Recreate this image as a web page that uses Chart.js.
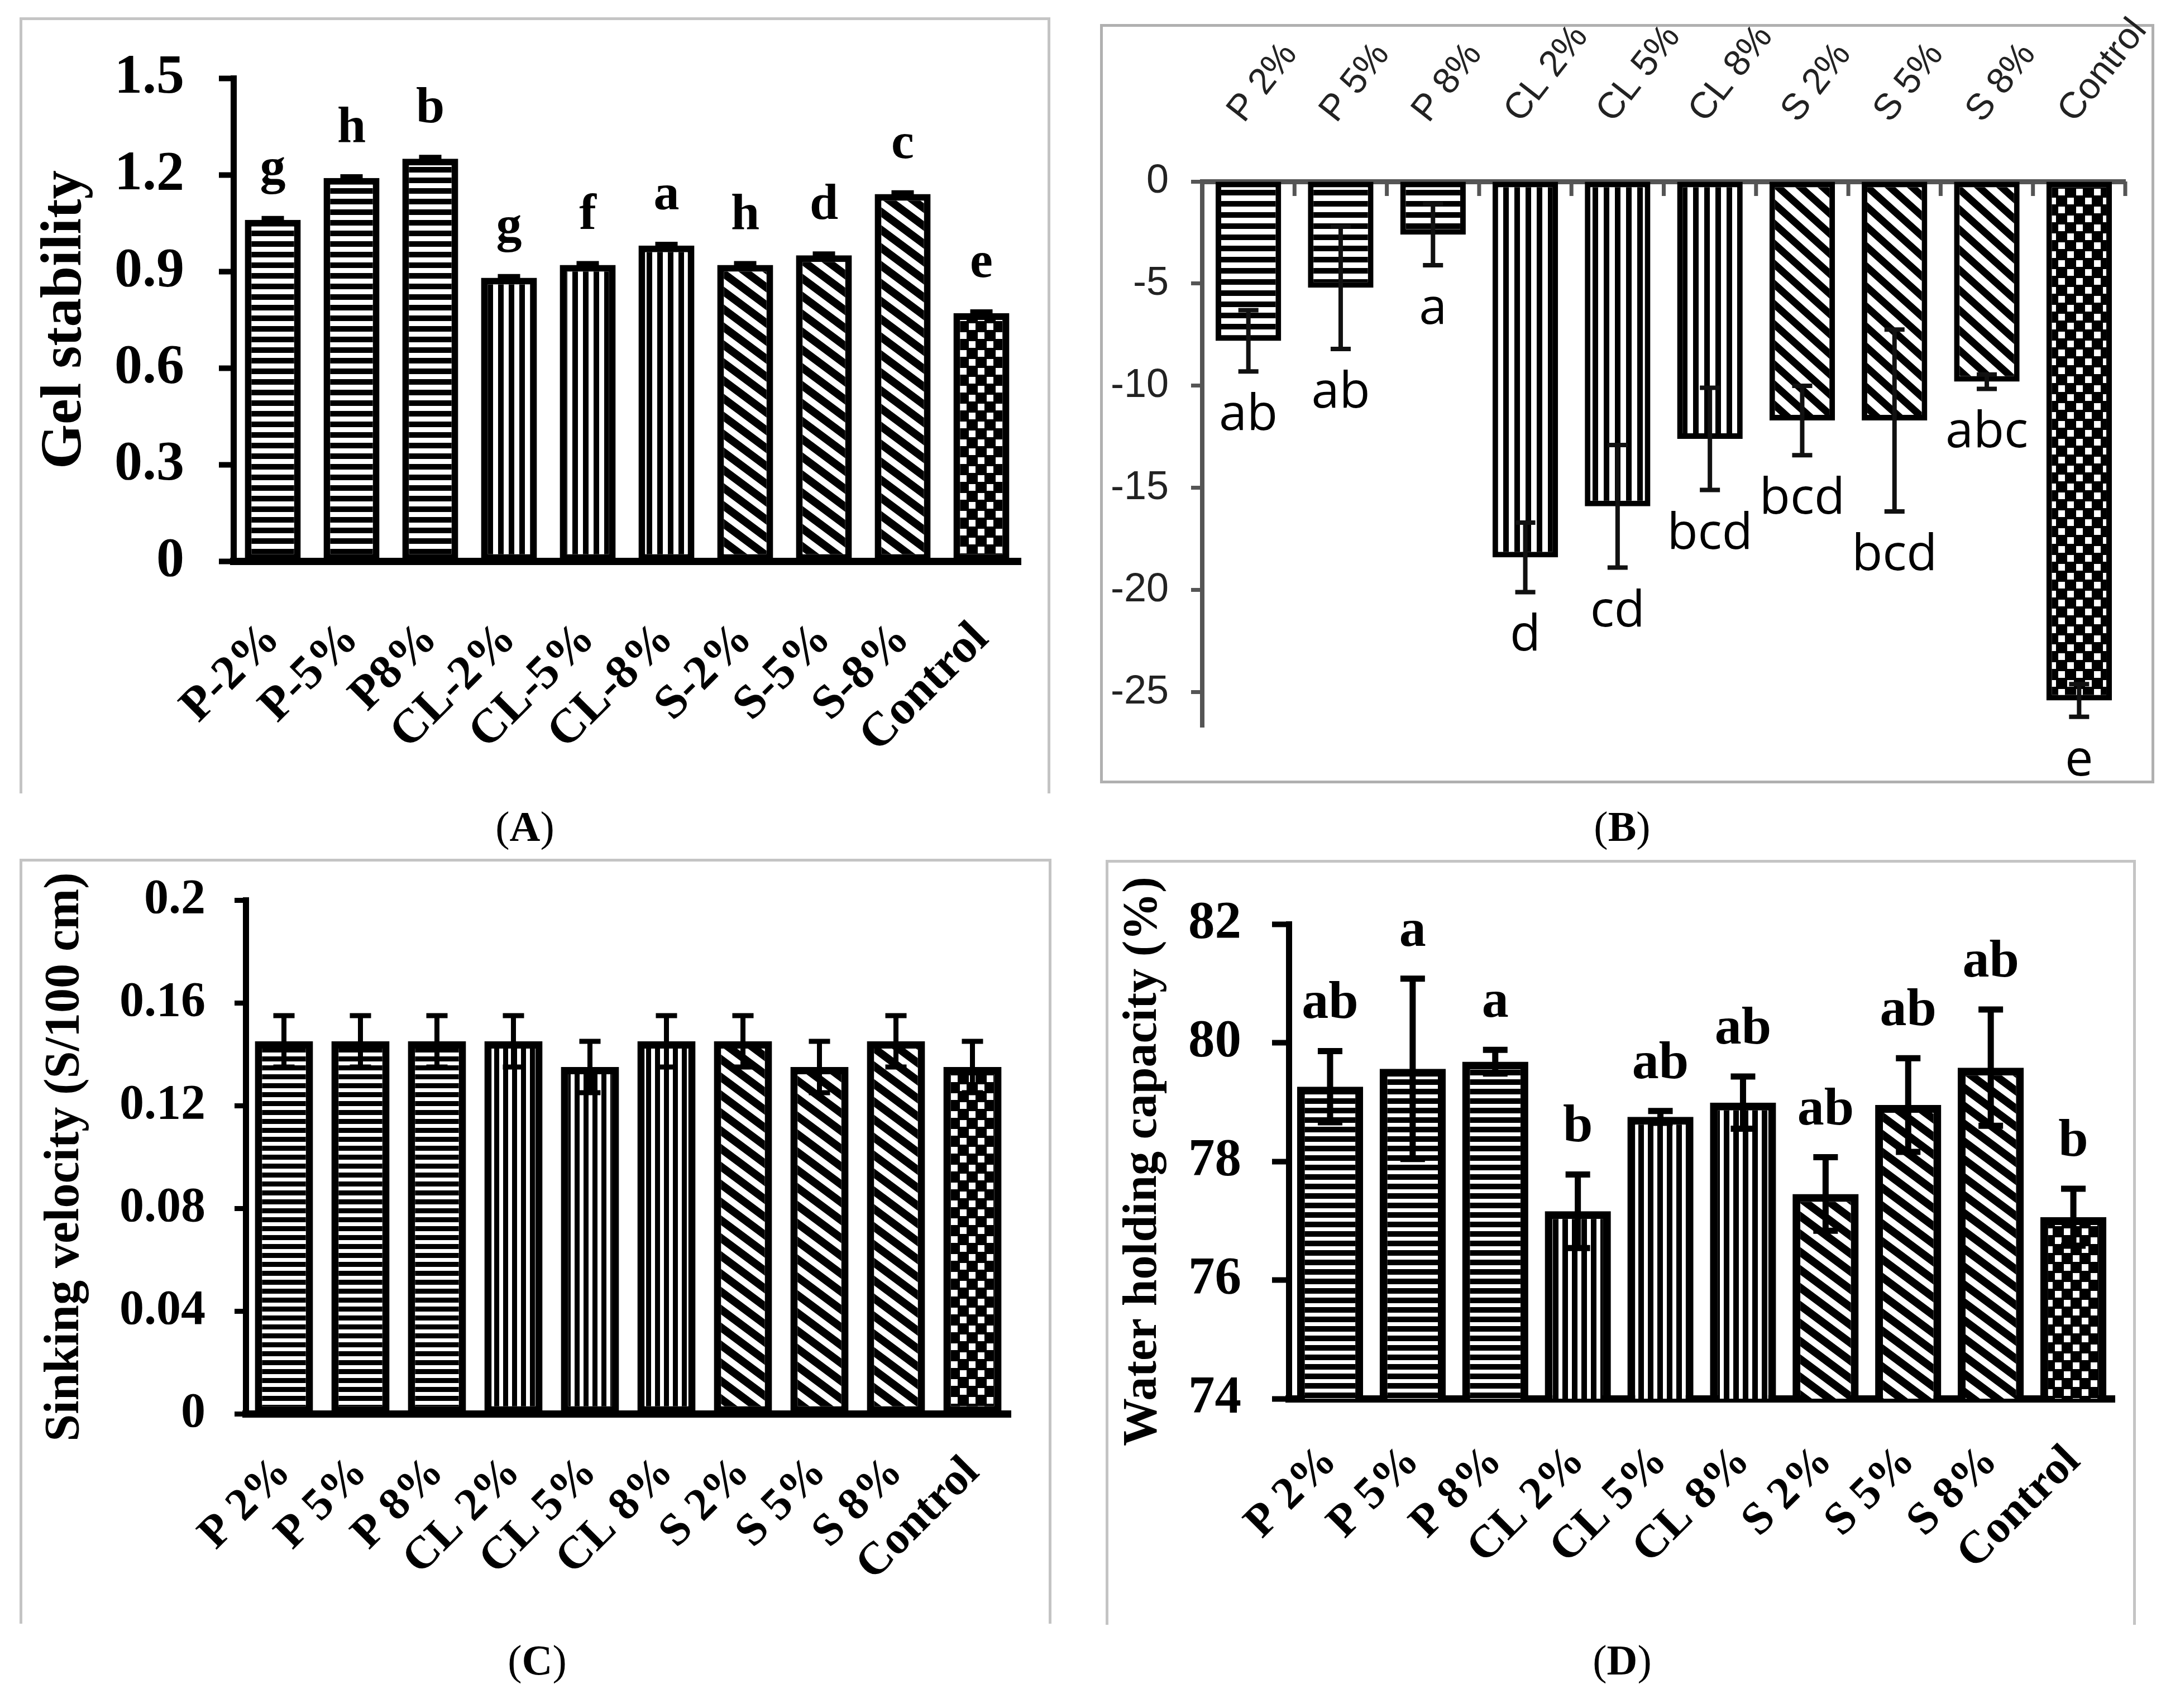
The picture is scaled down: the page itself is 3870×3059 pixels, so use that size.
<!DOCTYPE html>
<html>
<head>
<meta charset="utf-8">
<script src="https://cdn.jsdelivr.net/npm/chart.js@4.4.1/dist/chart.umd.min.js"></script>
<style>
  html, body { margin: 0; padding: 0; background: #fff; }
  body { position: relative; width: 3870px; height: 3059px; overflow: hidden; }
  .frame { position: absolute; box-sizing: border-box; border: 5px solid #c4c4c4; }
  .open { border-bottom: none; }
  canvas { position: absolute; }
  .cap { position: absolute; font: 76px "Liberation Serif", serif; line-height: 1; transform: translate(-50%, -50%); }
</style>
</head>
<body>
<div class="frame open" style="left:35px;top:31px;width:1846px;height:1390px"></div>
<div class="frame" style="left:1970px;top:43px;width:1888px;height:1360px;border-color:#b0b0b0"></div>
<div class="frame open" style="left:35px;top:1538px;width:1848px;height:1370px"></div>
<div class="frame open" style="left:1980px;top:1540px;width:1845px;height:1370px"></div>

<canvas id="gel" width="1843" height="1400" style="left:37px;top:33px"></canvas>
<canvas id="panelB" width="1883" height="1400" style="left:1972px;top:0px"></canvas>
<canvas id="sinking" width="1843" height="1380" style="left:37px;top:1540px"></canvas>
<canvas id="whc" width="1840" height="1380" style="left:1982px;top:1542px"></canvas>

<div class="cap" style="left:940px;top:1480px">(<b>A</b>)</div>
<div class="cap" style="left:2905px;top:1480px">(<b>B</b>)</div>
<div class="cap" style="left:962px;top:2973px">(<b>C</b>)</div>
<div class="cap" style="left:2905px;top:2973px">(<b>D</b>)</div>

<script>
// categories
const categoriesA = ['P-2%', 'P-5%', 'P8%', 'CL-2%', 'CL-5%', 'CL-8%', 'S-2%', 'S-5%', 'S-8%', 'Control'];
const categories = ['P 2%', 'P 5%', 'P 8%', 'CL 2%', 'CL 5%', 'CL 8%', 'S 2%', 'S 5%', 'S 8%', 'Control'];
const groups = ['P', 'P', 'P', 'CL', 'CL', 'CL', 'S', 'S', 'S', 'Control'];

// (A) gel stability
const gelStability = [1.06, 1.19, 1.25, 0.88, 0.92, 0.98, 0.92, 0.95, 1.14, 0.77];
const gelError = [0.005, 0.005, 0.005, 0.005, 0.005, 0.005, 0.005, 0.005, 0.005, 0.005];
const gelLetters = ['g', 'h', 'b', 'g', 'f', 'a', 'h', 'd', 'c', 'e'];
const gelTicks = [0, 0.3, 0.6, 0.9, 1.2, 1.5];

// (B)
const bValues = [-7.8, -5.2, -2.6, -18.4, -15.9, -12.6, -11.7, -11.7, -9.8, -25.4];
const bError = [1.5, 3.0, 1.5, 1.7, 3.0, 2.5, 1.7, 4.45, 0.35, 0.8];
const bLetters = ['ab', 'ab', 'a', 'd', 'cd', 'bcd', 'bcd', 'bcd', 'abc', 'e'];
const bTicks = [0, -5, -10, -15, -20, -25];

// (C) sinking velocity
const sinking = [0.145, 0.145, 0.145, 0.145, 0.135, 0.145, 0.145, 0.135, 0.145, 0.135];
const sinkingError = [0.01, 0.01, 0.01, 0.01, 0.01, 0.01, 0.01, 0.01, 0.01, 0.01];
const sinkingTicks = [0, 0.04, 0.08, 0.12, 0.16, 0.2];

// (D) water holding capacity
const whc = [79.26, 79.56, 79.68, 77.16, 78.75, 78.99, 77.45, 78.95, 79.58, 77.06];
const whcError = [0.6, 1.52, 0.2, 0.62, 0.1, 0.44, 0.62, 0.79, 0.98, 0.48];
const whcLetters = ['ab', 'a', 'a', 'b', 'ab', 'ab', 'ab', 'ab', 'ab', 'b'];
const whcTicks = [74, 76, 78, 80, 82];

const serif = 'Liberation Serif';
const sans = 'Liberation Sans';

// fill patterns: horizontal, vertical, diagonal stripes and checker
function makePattern(kind, p) {
  const c = document.createElement('canvas');
  const x = c.getContext('2d');
  if (kind === 'P') {
    c.width = 4; c.height = p.period;
    x.fillStyle = '#fff'; x.fillRect(0, 0, 4, p.period);
    x.fillStyle = '#000'; x.fillRect(0, 0, 4, p.black);
  } else if (kind === 'CL') {
    c.width = p.period; c.height = 4;
    x.fillStyle = '#fff'; x.fillRect(0, 0, p.period, 4);
    x.fillStyle = '#000'; x.fillRect(0, 0, p.black, 4);
  } else if (kind === 'S') {
    const w = p.dw, h = p.dh;
    c.width = w; c.height = h;
    x.fillStyle = '#fff'; x.fillRect(0, 0, w, h);
    x.strokeStyle = '#000'; x.lineWidth = p.dl;
    x.beginPath();
    for (let k = -2; k <= 2; k++) {
      x.moveTo(-w, -h + k * h);
      x.lineTo(2 * w, 2 * h + k * h);
    }
    x.stroke();
  } else {
    const s = p.cell, g = p.gap;
    c.width = 2 * s; c.height = 2 * s;
    x.fillStyle = '#000'; x.fillRect(0, 0, 2 * s, 2 * s);
    x.fillStyle = '#fff';
    x.fillRect(g, g, s - 2 * g, s - 2 * g);
    x.fillRect(s + g, s + g, s - 2 * g, s - 2 * g);
  }
  return x.createPattern(c, 'repeat');
}

function fills(p) {
  const pats = {};
  ['P', 'CL', 'S', 'Control'].forEach(k => pats[k] = makePattern(k, p));
  return groups.map(g => pats[g]);
}

// fixed axis size, no extra padding from labels so the plot area stays put
function fixHeight(h) {
  return s => { s.height = h; s.paddingLeft = 0; s.paddingRight = 0; };
}
function fixWidth(w) {
  return s => { s.width = w; s.paddingTop = 0; s.paddingBottom = 0; };
}

// error bars and significance letters
const errorBars = {
  id: 'errorBars',
  afterDatasetsDraw(chart, args, o) {
    const {ctx} = chart;
    const y = chart.scales.y;
    const vals = chart.data.datasets[0].data;
    ctx.save();
    ctx.strokeStyle = o.color;
    ctx.lineWidth = o.lineWidth;
    chart.getDatasetMeta(0).data.forEach((bar, i) => {
      const hi = y.getPixelForValue(vals[i] + o.errors[i]);
      const lo = y.getPixelForValue(vals[i] - o.errors[i]);
      ctx.beginPath();
      ctx.moveTo(bar.x, hi); ctx.lineTo(bar.x, lo);
      ctx.moveTo(bar.x - o.cap / 2, hi); ctx.lineTo(bar.x + o.cap / 2, hi);
      ctx.moveTo(bar.x - o.cap / 2, lo); ctx.lineTo(bar.x + o.cap / 2, lo);
      ctx.stroke();
      if (o.letters) {
        ctx.fillStyle = '#000';
        ctx.font = o.font;
        ctx.textAlign = 'center';
        ctx.textBaseline = 'alphabetic';
        ctx.fillText(o.letters[i], bar.x, o.below ? lo + o.gap : hi - o.gap);
      }
    });
    // small ticks between categories (panel B)
    if (o.innerTicks) {
      const x = chart.scales.x;
      ctx.strokeStyle = '#555';
      ctx.lineWidth = 7;
      ctx.beginPath();
      for (let i = 0; i <= vals.length; i++) {
        const px = x.getPixelForValue(i - 0.5);
        ctx.moveTo(px, y.top); ctx.lineTo(px, y.top + 26);
      }
      ctx.stroke();
    }
    ctx.restore();
  }
};

function font(family, size, bold) {
  return {family: family, size: size, weight: bold ? 'bold' : 'normal'};
}

const common = {
  responsive: false,
  animation: false,
  plugins: {legend: {display: false}, tooltip: {enabled: false}}
};

// (A)
new Chart(document.getElementById('gel'), {
  type: 'bar',
  data: {
    labels: categoriesA,
    datasets: [{
      data: gelStability,
      backgroundColor: fills({period: 19, black: 10, dw: 43, dh: 32, dl: 14, cell: 16, gap: 2}),
      borderColor: '#000', borderWidth: 12, borderSkipped: false,
      barPercentage: 0.71, categoryPercentage: 1
    }]
  },
  options: {
    ...common,
    layout: {padding: {left: 0, top: 107, right: 52, bottom: 0}},
    plugins: {
      ...common.plugins,
      errorBars: {errors: gelError, letters: gelLetters, color: '#000', lineWidth: 8, cap: 40,
        font: 'bold 92px "Liberation Serif"', gap: 62, below: false}
    },
    scales: {
      x: {
        afterFit: fixHeight(428),
        ticks: {font: font(serif, 86, true), color: '#000', minRotation: 45, maxRotation: 45, padding: 90, autoSkip: false},
        grid: {drawOnChartArea: false, drawTicks: false},
        border: {color: '#000', width: 13}
      },
      y: {
        min: 0, max: 1.5,
        afterBuildTicks: s => { s.ticks = gelTicks.map(v => ({value: v})); },
        afterFit: fixWidth(381),
        ticks: {font: font(serif, 100, true), color: '#000', padding: 62, callback: v => String(v)},
        grid: {drawOnChartArea: false, tickLength: 26, tickWidth: 10, tickColor: '#000'},
        border: {color: '#000', width: 11},
        title: {display: true, text: 'Gel stability', font: font(serif, 103, true), color: '#000', padding: {top: 19}}
      }
    }
  },
  plugins: [errorBars]
});

// (B)
new Chart(document.getElementById('panelB'), {
  type: 'bar',
  data: {
    labels: categories,
    datasets: [{
      data: bValues,
      backgroundColor: fills({period: 20, black: 10, dw: 40, dh: 36, dl: 13, cell: 16, gap: 2}),
      borderColor: '#000', borderWidth: 10, borderSkipped: false,
      barPercentage: 0.71, categoryPercentage: 1
    }]
  },
  options: {
    ...common,
    layout: {padding: {left: 0, top: 0, right: 49, bottom: 98}},
    plugins: {
      ...common.plugins,
      errorBars: {errors: bError, letters: bLetters, color: '#111', lineWidth: 8, cap: 36,
        font: '90px "Open Sans"', gap: 105, below: true, innerTicks: true}
    },
    scales: {
      x: {
        position: 'top',
        afterFit: fixHeight(325),
        ticks: {font: font(sans, 66, false), color: '#222', minRotation: 52, maxRotation: 52, padding: 90, labelOffset: 40, autoSkip: false},
        grid: {drawOnChartArea: false, drawTicks: false},
        border: {color: '#555', width: 9}
      },
      y: {
        min: -26.7, max: 0,
        afterBuildTicks: s => { s.ticks = bTicks.map(v => ({value: v})); },
        afterFit: fixWidth(181),
        ticks: {font: font(sans, 72, false), color: '#222', padding: 40, callback: v => String(v)},
        grid: {drawOnChartArea: false, tickLength: 20, tickWidth: 7, tickColor: '#555'},
        border: {color: '#555', width: 8}
      }
    }
  },
  plugins: [errorBars]
});

// (C)
new Chart(document.getElementById('sinking'), {
  type: 'bar',
  data: {
    labels: categories,
    datasets: [{
      data: sinking,
      backgroundColor: fills({period: 16, black: 9, dw: 43, dh: 32, dl: 14, cell: 16, gap: 2}),
      borderColor: '#000', borderWidth: 13, borderSkipped: false,
      barPercentage: 0.76, categoryPercentage: 1
    }]
  },
  options: {
    ...common,
    layout: {padding: {left: 0, top: 72, right: 70, bottom: 0}},
    plugins: {
      ...common.plugins,
      errorBars: {errors: sinkingError, color: '#000', lineWidth: 9, cap: 38}
    },
    scales: {
      x: {
        afterFit: fixHeight(388),
        ticks: {font: font(serif, 82, true), color: '#000', minRotation: 45, maxRotation: 45, padding: 58, autoSkip: false},
        grid: {drawOnChartArea: false, drawTicks: false},
        border: {color: '#000', width: 13}
      },
      y: {
        min: 0, max: 0.2,
        afterBuildTicks: s => { s.ticks = sinkingTicks.map(v => ({value: v})); },
        afterFit: fixWidth(403),
        ticks: {font: font(serif, 88, true), color: '#000', padding: 52, callback: v => String(v)},
        grid: {drawOnChartArea: false, tickLength: 20, tickWidth: 9, tickColor: '#000'},
        border: {color: '#000', width: 11},
        title: {display: true, text: 'Sinking velocity (S/100 cm)', font: font(serif, 88, true), color: '#000', padding: {top: 27}}
      }
    }
  },
  plugins: [errorBars]
});

// (D)
new Chart(document.getElementById('whc'), {
  type: 'bar',
  data: {
    labels: categories,
    datasets: [{
      data: whc,
      backgroundColor: fills({period: 17, black: 10, dw: 43, dh: 32, dl: 14, cell: 16, gap: 2}),
      borderColor: '#000', borderWidth: 14, borderSkipped: false,
      barPercentage: 0.8, categoryPercentage: 1
    }]
  },
  options: {
    ...common,
    layout: {padding: {left: 0, top: 113, right: 35, bottom: 0}},
    plugins: {
      ...common.plugins,
      errorBars: {errors: whcError, letters: whcLetters, color: '#000', lineWidth: 11, cap: 44,
        font: 'bold 96px "Liberation Serif"', gap: 59, below: false}
    },
    scales: {
      x: {
        afterFit: fixHeight(417),
        ticks: {font: font(serif, 82, true), color: '#000', minRotation: 45, maxRotation: 45, padding: 65, autoSkip: false},
        grid: {drawOnChartArea: false, drawTicks: false},
        border: {color: '#000', width: 13}
      },
      y: {
        min: 74, max: 82,
        afterBuildTicks: s => { s.ticks = whcTicks.map(v => ({value: v})); },
        afterFit: fixWidth(326),
        ticks: {font: font(serif, 95, true), color: '#000', padding: 55, callback: v => String(v)},
        grid: {drawOnChartArea: false, tickLength: 30, tickWidth: 10, tickColor: '#000'},
        border: {color: '#000', width: 11},
        title: {display: true, text: 'Water holding capacity (%)', font: font(serif, 86, true), color: '#000', padding: {top: 14}}
      }
    }
  },
  plugins: [errorBars]
});
</script>
</body>
</html>
